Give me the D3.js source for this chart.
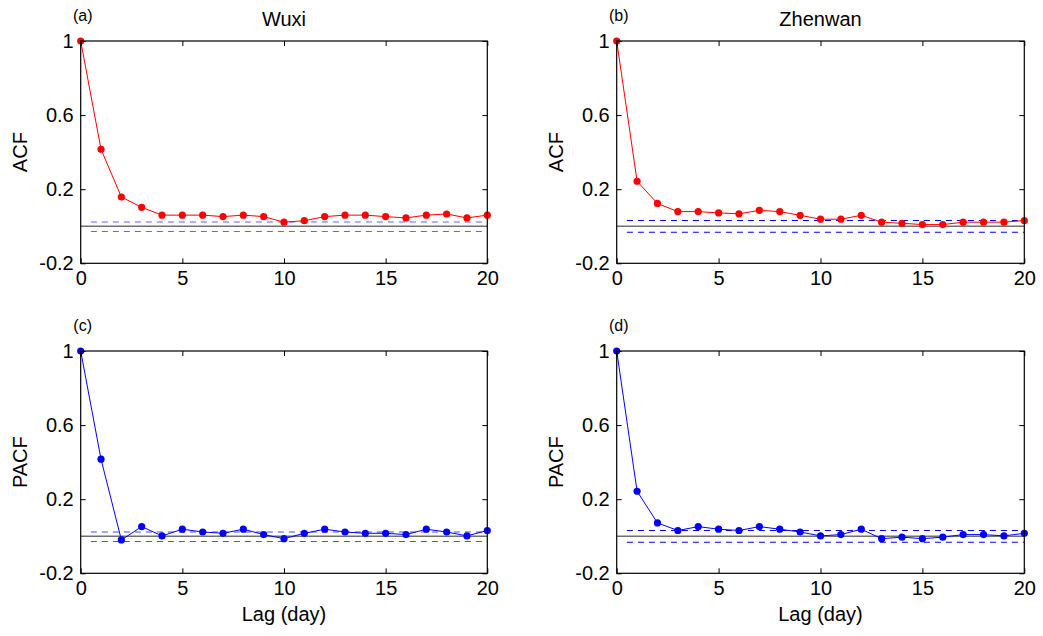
<!DOCTYPE html>
<meta charset="utf-8">
<style>
body { margin: 0; background: white; }
svg text { font-family: "Liberation Sans", Arial, sans-serif; fill: black; }
.axis text { font-size: 20px; }
.axis path { display: none; }
.axis line { stroke: black; }
</style>
<svg width="1043" height="636"></svg>
<script src="https://d3js.org/d3.v7.min.js"></script>
<script>

var lags = d3.range(0, 21);
var xTicks = [0, 5, 10, 15, 20];
var yTicks = [-0.2, 0.2, 0.6, 1];

var acfWuxi = [1, 0.415, 0.158, 0.102, 0.06, 0.06, 0.06, 0.052, 0.06, 0.052, 0.022,
               0.03, 0.052, 0.06, 0.06, 0.052, 0.045, 0.06, 0.066, 0.045, 0.06];
var acfZhenwan = [1, 0.243, 0.123, 0.079, 0.079, 0.072, 0.067, 0.086, 0.079, 0.059, 0.038,
                  0.038, 0.059, 0.022, 0.016, 0.009, 0.009, 0.022, 0.022, 0.022, 0.031];
var pacfWuxi = [1, 0.416, -0.02, 0.052, 0.002, 0.038, 0.023, 0.016, 0.038, 0.009, -0.013,
                0.016, 0.038, 0.023, 0.016, 0.016, 0.009, 0.038, 0.023, 0.002, 0.031];
var pacfZhenwan = [1, 0.243, 0.072, 0.031, 0.052, 0.038, 0.031, 0.052, 0.038, 0.023, 0.002,
                   0.009, 0.038, -0.013, -0.005, -0.013, -0.005, 0.009, 0.009, 0.002, 0.016];

var confWuxi = [0.023, -0.028];
var confZhenwan = [0.031, -0.032];

var panels = [
  {tag: "(a)", title: "Wuxi", ylab: "ACF", values: acfWuxi, conf: confWuxi,
   color: "#ff0000", confColor: "#6262ff", x0: 80.7, x1: 487.3, y0: 41, y1: 263.3, xlab: false},
  {tag: "(b)", title: "Zhenwan", ylab: "ACF", values: acfZhenwan, conf: confZhenwan,
   color: "#ff0000", confColor: "#0000ff", x0: 616.7, x1: 1024.3, y0: 41, y1: 263.3, xlab: false},
  {tag: "(c)", title: null, ylab: "PACF", values: pacfWuxi, conf: confWuxi,
   color: "#0000ff", confColor: "#4a4aff", x0: 80.7, x1: 487.3, y0: 351, y1: 573.3, xlab: true},
  {tag: "(d)", title: null, ylab: "PACF", values: pacfZhenwan, conf: confZhenwan,
   color: "#0000ff", confColor: "#0000ff", x0: 616.7, x1: 1024.3, y0: 351, y1: 573.3, xlab: true}
];

var svg = d3.select("svg");

function fmt(d) { return d === 1 ? "1" : d3.format(".1f")(d).replace("\u2212", "-"); }

panels.forEach(function(p) {
  var x = d3.scaleLinear().domain([0, 20]).range([p.x0, p.x1]);
  var y = d3.scaleLinear().domain([-0.2, 1]).range([p.y1, p.y0]);
  var g = svg.append("g");

  // zero line and confidence bounds
  g.append("line")
    .attr("x1", x(0)).attr("x2", x(20))
    .attr("y1", y(0)).attr("y2", y(0))
    .attr("stroke", "#707070").attr("stroke-width", 1.6);

  p.conf.forEach(function(c) {
    g.append("line")
      .attr("x1", x(0.5)).attr("x2", x(20))
      .attr("y1", y(c)).attr("y2", y(c))
      .attr("stroke", p.confColor).attr("stroke-width", 1.1)
      .attr("stroke-dasharray", "6,5");
  });

  var line = d3.line()
    .x(function(d, i) { return x(lags[i]); })
    .y(function(d) { return y(d); });

  g.append("path")
    .datum(p.values)
    .attr("d", line)
    .attr("fill", "none")
    .attr("stroke", p.color)
    .attr("stroke-width", 1);

  g.selectAll(".dot")
    .data(p.values)
    .enter().append("circle")
    .attr("cx", function(d, i) { return x(lags[i]); })
    .attr("cy", function(d) { return y(d); })
    .attr("r", 3.6)
    .attr("fill", p.color);

  // axes, ticks pointing inward
  g.append("g").attr("class", "axis")
    .attr("transform", "translate(0," + p.y1 + ")")
    .call(d3.axisBottom(x).tickValues(xTicks).tickSizeInner(-5).tickSizeOuter(0).tickPadding(8));
  g.append("g").attr("class", "axis")
    .attr("transform", "translate(0," + p.y0 + ")")
    .call(d3.axisTop(x).tickValues(xTicks).tickSizeInner(-5).tickSizeOuter(0).tickFormat(""));
  g.append("g").attr("class", "axis")
    .attr("transform", "translate(" + p.x0 + ",0)")
    .call(d3.axisLeft(y).tickValues(yTicks).tickSizeInner(-5).tickSizeOuter(0).tickPadding(7).tickFormat(fmt));
  g.append("g").attr("class", "axis")
    .attr("transform", "translate(" + p.x1 + ",0)")
    .call(d3.axisRight(y).tickValues(yTicks).tickSizeInner(-5).tickSizeOuter(0).tickFormat(""));

  g.append("rect")
    .attr("x", p.x0).attr("y", p.y0)
    .attr("width", p.x1 - p.x0).attr("height", p.y1 - p.y0)
    .attr("fill", "none").attr("stroke", "black").attr("stroke-width", 1.2);

  g.append("text")
    .attr("x", p.x0 + 2).attr("y", p.y0 - 20)
    .attr("text-anchor", "middle")
    .style("font-size", "16px")
    .text(p.tag);

  if (p.title) {
    g.append("text")
      .attr("x", (p.x0 + p.x1) / 2).attr("y", p.y0 - 15)
      .attr("text-anchor", "middle")
      .style("font-size", "20px")
      .text(p.title);
  }

  g.append("text")
    .attr("transform", "translate(" + (p.x0 - 54) + "," + ((p.y0 + p.y1) / 2) + ") rotate(-90)")
    .attr("text-anchor", "middle")
    .style("font-size", "20px")
    .text(p.ylab);

  if (p.xlab) {
    g.append("text")
      .attr("x", (p.x0 + p.x1) / 2).attr("y", p.y1 + 48)
      .attr("text-anchor", "middle")
      .style("font-size", "20px")
      .text("Lag (day)");
  }
});

</script>
